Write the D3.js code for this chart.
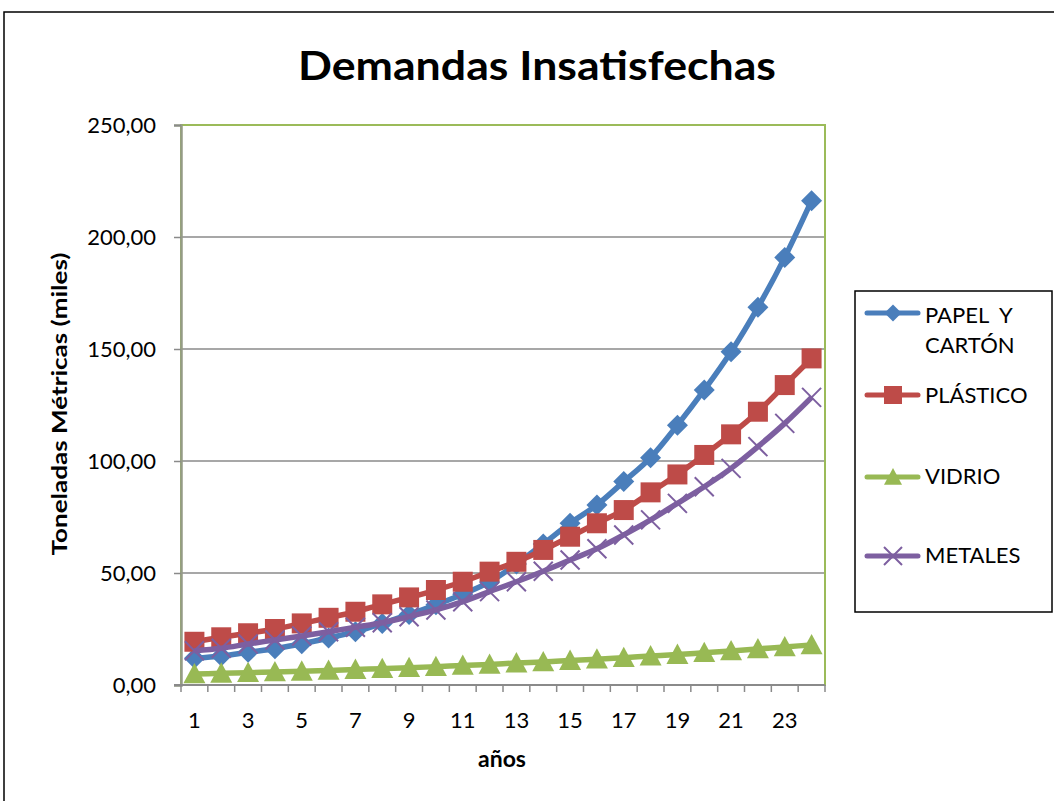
<!DOCTYPE html>
<html>
<head>
<meta charset="utf-8">
<script src="https://cdn.jsdelivr.net/npm/d3@7"></script>
<style>
body{margin:0;background:#fff;}
svg{display:block;}
</style>
</head>
<body>
<svg id="svg" width="1054" height="801"></svg>
<script>
let years=d3.range(1,25);
let papel=[11.9,12.9,14.6,16.2,18.4,21.0,23.8,27.5,31.5,35.8,40.5,46.0,54.0,63.0,72.2,80.4,90.8,101.5,116.0,131.7,148.8,168.6,190.9,216.2];
let plastico=[19.3,21.3,23.1,25.0,27.5,30.0,32.7,36.0,39.1,42.4,46.1,50.6,55.0,60.3,66.2,72.2,78.1,86.0,94.0,102.7,111.9,122.0,133.9,145.8];
let vidrio=[4.9,5.2,5.5,5.8,6.1,6.5,6.9,7.3,7.7,8.2,8.7,9.2,9.8,10.3,10.9,11.5,12.2,12.9,13.6,14.4,15.2,16.1,17.0,17.9];
let metales=[15.3,16.4,18.3,20.1,21.9,23.8,25.8,27.8,30.5,33.5,37.2,41.7,46.1,50.8,55.8,60.8,67.0,73.7,81.1,88.5,96.7,106.4,116.8,128.4];
let yTicks=[0,50,100,150,200,250];
let series=[
    {name:["PAPEL  Y","CARTÓN"],values:papel,color:"#4A7EBB",marker:"diamond"},
    {name:["PLÁSTICO"],values:plastico,color:"#BE4B48",marker:"square"},
    {name:["VIDRIO"],values:vidrio,color:"#98B954",marker:"triangle"},
    {name:["METALES"],values:metales,color:"#7D5FA0",marker:"cross"}
];
const font="Lato, 'Open Sans', sans-serif";
const svg=d3.select("#svg");

// outer chart border
svg.append("rect").attr("x",4).attr("y",12).attr("width",1070).attr("height",820).attr("fill","white").attr("stroke","#000").attr("stroke-width",1.5);

svg.append("text").attr("x",537).attr("y",80).attr("text-anchor","middle").style("font-family",font).style("font-weight",700).style("font-size","40px").attr("textLength",478).attr("lengthAdjust","spacingAndGlyphs").text("Demandas Insatisfechas");

let pLeft=181,pRight=825,pTop=125,pBottom=685;
let x=d3.scaleBand().domain(years).range([pLeft,pRight]).paddingInner(0).paddingOuter(0);
let y=d3.scaleLinear().domain([0,250]).range([pBottom,pTop]);
let cx=d=>x(d)+x.bandwidth()/2;

// gridlines
svg.append("g").selectAll("line").data(yTicks.slice(1)).join("line")
    .attr("x1",pLeft).attr("x2",pRight).attr("y1",d=>y(d)).attr("y2",d=>y(d))
    .attr("stroke","#8A8A8A").attr("stroke-width",1.5);
// plot border (green top/right)
svg.append("rect").attr("x",pLeft).attr("y",pTop).attr("width",pRight-pLeft).attr("height",pBottom-pTop).attr("fill","none").attr("stroke","#9BBB59").attr("stroke-width",2);

// y axis
let yAxis=d3.axisLeft(y).tickValues(yTicks).tickSize(7).tickPadding(18).tickFormat(d=>d3.format(".2f")(d).replace(".",","));
let gy=svg.append("g").attr("transform","translate("+pLeft+",0)").call(yAxis);
gy.select(".domain").attr("stroke","#959C86").attr("stroke-width",2.5);
gy.selectAll(".tick line").attr("stroke","#8A8A8A").attr("stroke-width",1.5);
gy.selectAll(".tick text").style("font-family",font).style("font-size","22px").attr("fill","#000");

// x axis, ticks at category boundaries
svg.append("line").attr("x1",pLeft-7).attr("x2",pRight).attr("y1",pBottom).attr("y2",pBottom).attr("stroke","#8A8A8A").attr("stroke-width",2);
svg.append("g").selectAll("line").data(years.concat([25])).join("line")
    .attr("x1",d=>d<25?x(d):pRight).attr("x2",d=>d<25?x(d):pRight)
    .attr("y1",pBottom).attr("y2",pBottom+7).attr("stroke","#8A8A8A").attr("stroke-width",1.5);
svg.append("g").selectAll("text").data(years.filter(d=>d%2==1)).join("text")
    .attr("x",d=>cx(d)).attr("y",728).attr("text-anchor","middle")
    .style("font-family",font).style("font-size","22px").attr("fill","#000").text(d=>d);

svg.append("text").attr("x",502).attr("y",767).attr("text-anchor","middle").style("font-family",font).style("font-weight",700).style("font-size","23px").text("años");
svg.append("text").attr("transform","translate(67,404) rotate(-90)").attr("text-anchor","middle").style("font-family",font).style("font-weight",700).style("font-size","21px").attr("textLength",303).attr("lengthAdjust","spacingAndGlyphs").text("Toneladas Métricas (miles)");

function markerPath(type,s)
{
    let h=s/2;
    if(type=="diamond") return "M0,"+(-h)+"L"+h+",0L0,"+h+"L"+(-h)+",0Z";
    if(type=="square") return "M"+(-h)+","+(-h)+"H"+h+"V"+h+"H"+(-h)+"Z";
    if(type=="triangle") return "M0,"+(-h)+"L"+h+","+(h*0.85)+"L"+(-h)+","+(h*0.85)+"Z";
    return "M"+(-h)+","+(-h)+"L"+h+","+h+"M"+(-h)+","+h+"L"+h+","+(-h);
}
let msize={diamond:21,square:20,triangle:22,cross:19};

let line=d3.line().x((d,i)=>cx(years[i])).y(d=>y(d)).curve(d3.curveMonotoneX);
series.forEach(s=>{
    let g=svg.append("g");
    g.append("path").attr("d",line(s.values)).attr("fill","none").attr("stroke",s.color).attr("stroke-width",5.5).attr("stroke-linejoin","round");
    g.selectAll("path.m").data(s.values).join("path").attr("class","m")
        .attr("transform",(d,i)=>"translate("+cx(years[i])+","+y(d)+")")
        .attr("d",markerPath(s.marker,msize[s.marker]))
        .attr("fill",s.marker=="cross"?"none":s.color)
        .attr("stroke",s.color).attr("stroke-width",s.marker=="cross"?2:0);
});

// legend
svg.append("rect").attr("x",855).attr("y",291).attr("width",197).attr("height",321).attr("fill","white").attr("stroke","#000").attr("stroke-width",1.5);
let legY=[313,395,477,556];
let legText=[[323,353],[403],[484],[563]];
series.forEach((s,k)=>{
    svg.append("line").attr("x1",867).attr("x2",918).attr("y1",legY[k]).attr("y2",legY[k]).attr("stroke",s.color).attr("stroke-width",5).attr("stroke-linecap","round");
    svg.append("path").attr("transform","translate(893,"+legY[k]+")").attr("d",markerPath(s.marker,s.marker=="diamond"?17:18))
        .attr("fill",s.marker=="cross"?"none":s.color).attr("stroke",s.color).attr("stroke-width",s.marker=="cross"?2:0);
    s.name.forEach((t,j)=>{
        svg.append("text").attr("x",925).attr("y",legText[k][j]).style("font-family",font).style("font-size","22px").style("white-space","pre").attr("fill","#000").text(t);
    });
});
</script>
</body>
</html>
